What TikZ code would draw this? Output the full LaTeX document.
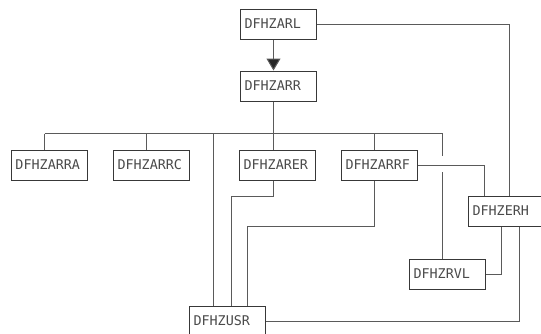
\documentclass[tikz,border=0pt]{standalone}
\usepackage{fontspec}
\newfontfamily\boxfont{DejaVu Sans Mono}
\usetikzlibrary{arrows.meta}
\definecolor{linegray}{HTML}{5A5A5A}
\definecolor{textgray}{HTML}{4A4A4A}
\begin{document}
\begin{tikzpicture}[x=1pt,y=-1pt,
  modbox/.style={draw=black!78, line width=1pt, fill=white, anchor=north west,
    minimum width=76pt, minimum height=30pt, text width=67pt, inner xsep=4.5pt, inner ysep=0pt,
    align=left, font=\boxfont\fontsize{13.4pt}{14pt}\selectfont, text=textgray},
  conn/.style={draw=linegray, line width=1pt}]
\useasboundingbox (0,0) rectangle (541,333);
\clip (0,0) rectangle (541,333);
\fill[white] (0,0) rectangle (541,333);
% boxes
\node[modbox] (arl)  at (239.5,8.5)   {DFHZARL};
\node[modbox] (arr)  at (239.5,70.5)  {DFHZARR};
\node[modbox] (arra) at (10.5,149.5)  {DFHZARRA};
\node[modbox] (arrc) at (112.5,149.5) {DFHZARRC};
\node[modbox] (arer) at (238.5,149.5) {DFHZARER};
\node[modbox] (arrf) at (340.5,149.5) {DFHZARRF};
\node[modbox] (erh)  at (467.5,195.5) {DFHZERH};
\node[modbox] (rvl)  at (408.5,258.5) {DFHZRVL};
\node[modbox] (usr)  at (188.5,305.5) {DFHZUSR};
% helper coordinates
\coordinate (busL) at (44.5,133.5);
\coordinate (busR) at (442.5,133.5);
\coordinate (gapT) at (442.5,156);
\coordinate (gapB) at (442.5,172);
% connectors
\draw[conn, -{Triangle[length=12pt,width=14pt,fill=black!85]}] (273.5,0 |- arl.south) -- (273.5,0 |- arr.north);
\draw[conn] (arl.east) -| (509.5,0 |- erh.north);
\draw[conn] (273.5,0 |- arr.south) -- (273.5,0 |- arer.north);
\draw[conn] (busL) -- (busR) -- (gapT);
\draw[conn] (gapB) -- (442.5,0 |- rvl.north);
\draw[conn] (busL) -- (44.5,0 |- arra.north);
\draw[conn] (146.5,133.5) -- (146.5,0 |- arrc.north);
\draw[conn] (213.5,133.5) -- (213.5,0 |- usr.north);
\draw[conn] (374.5,133.5) -- (374.5,0 |- arrf.north);
\draw[conn] (273.5,0 |- arer.south) -- (273.5,196.5) -- (231.5,196.5) -- (231.5,0 |- usr.north);
\draw[conn] (374.5,0 |- arrf.south) -- (374.5,226.5) -- (247.5,226.5) -- (247.5,0 |- usr.north);
\draw[conn] (arrf.east) -| (484.5,0 |- erh.north);
\draw[conn] (501.5,0 |- erh.south) |- (rvl.east);
\draw[conn] (519.5,0 |- erh.south) |- (usr.east);
\end{tikzpicture}
\end{document}
